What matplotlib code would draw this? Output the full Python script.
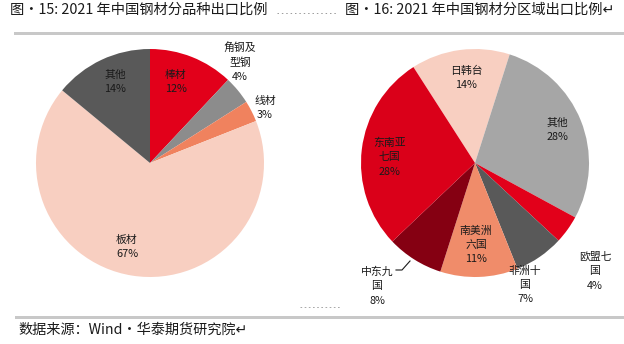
import matplotlib
matplotlib.use("Agg")
import matplotlib.pyplot as plt
from matplotlib.lines import Line2D
from matplotlib.patches import Rectangle

plt.rcParams['font.family'] = ['Noto Sans CJK SC', 'DejaVu Sans']

# Fig. 15: export share by product
product_names = ['棒材', '角钢及\n型钢', '线材', '板材', '其他']
product_share = [12, 4, 3, 67, 14]
product_colors = ['#E2001A', '#8C8C8C', '#F0825E', '#F8CFC1', '#595959']

# Fig. 16: export share by region
region_names = ['日韩台', '其他', '欧盟七\n国', '非洲十\n国', '南美洲\n六国', '中东九\n国', '东南亚\n七国']
region_share = [14, 28, 4, 7, 11, 8, 28]
region_colors = ['#F8CFC1', '#A6A6A6', '#E2001A', '#595959', '#F08C6A', '#850012', '#DA0019']

W, H = 624, 344
fig = plt.figure(figsize=(W / 100, H / 100), dpi=100)


def fx(x):
    return x / W


def fy(y):
    return 1 - y / H


def pie_axes(cx, cy, r):
    return fig.add_axes([fx(cx - r), fy(cy + r), 2 * r / W, 2 * r / H])


# label anchor points (pixels) for each slice
product_label_px = [(176, 82), (240, 62), (265, 108), (127, 247), (115, 82)]
region_label_px = [(466, 78), (557, 130), (595, 271), (525, 285), (476, 245), (377, 286), (389, 157)]

# left pie
ax1 = pie_axes(150, 163, 114)
ax1.pie(product_share, colors=product_colors, startangle=90, counterclock=False,
        wedgeprops=dict(linewidth=0))
ax1.set_xlim(-1, 1)
ax1.set_ylim(-1, 1)
ax1.axis('off')
for name, v, (x, y) in zip(product_names, product_share, product_label_px):
    fig.text(fx(x), fy(y), f"{name}\n{v}%", ha='center', va='center',
             fontsize=7.8, linespacing=1.55, color='#1a1a1a')

# right pie
ax2 = pie_axes(475, 163, 114)
ax2.pie(region_share, colors=region_colors, startangle=122.7, counterclock=False,
        wedgeprops=dict(linewidth=0))
ax2.set_xlim(-1, 1)
ax2.set_ylim(-1, 1)
ax2.axis('off')
for name, v, (x, y) in zip(region_names, region_share, region_label_px):
    fig.text(fx(x), fy(y), f"{name}\n{v}%", ha='center', va='center',
             fontsize=7.8, linespacing=1.55, color='#1a1a1a')

# leader line for 中东九国
fig.add_artist(Line2D([fx(396), fx(402), fx(410)], [fy(270), fy(270), fy(261)],
                      color='#1a1a1a', lw=0.8))

# titles
fig.text(fx(10), fy(10), "图·15: 2021 年中国钢材分品种出口比例", ha='left', va='center',
         fontsize=10.3, color='#1a1a1a')
fig.add_artist(Line2D([fx(277), fx(338)], [fy(13), fy(13)], color='#9a9a9a',
                      lw=0.7, linestyle=(0, (1.5, 3))))
fig.text(fx(345), fy(10), "图·16: 2021 年中国钢材分区域出口比例↵", ha='left', va='center',
         fontsize=10.3, color='#1a1a1a')

# horizontal rules
fig.add_artist(Rectangle((fx(14), fy(35)), 1 - fx(14), 3 / H, color='#C8C8C8', lw=0))
fig.add_artist(Rectangle((fx(15), fy(319)), 1 - fx(15), 3 / H, color='#C8C8C8', lw=0))

# small dashes
fig.add_artist(Line2D([fx(300), fx(340)], [fy(307), fy(307)], color='#9a9a9a',
                      lw=0.6, linestyle=(0, (2, 3))))

# source
fig.text(fx(18), fy(330), "数据来源：Wind·华泰期货研究院↵", ha='left', va='center',
         fontsize=10.2, color='#1a1a1a')

fig.savefig("out.png", dpi=100)
